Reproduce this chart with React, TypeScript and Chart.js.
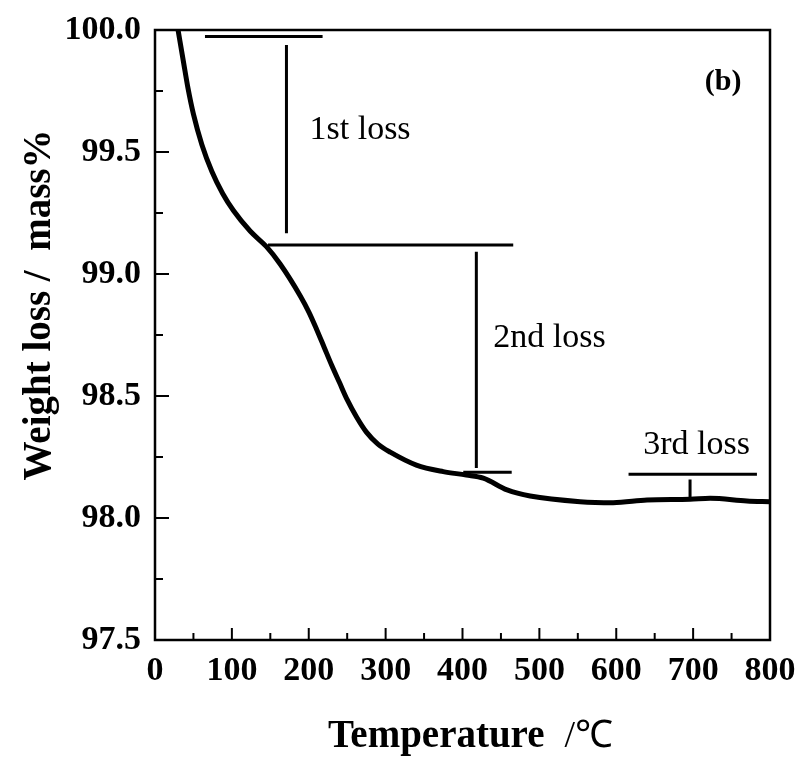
import React, { useEffect, useRef } from "react";
import { Chart, registerables } from "chart.js";

Chart.register(...registerables);

// TG curve (temperature in °C, weight in mass%)
const temps = [30, 37, 43, 50, 61, 74, 88, 102, 124, 145, 163, 189, 200, 210, 220, 230, 240, 250, 262, 275, 290, 306, 340, 375, 405, 427, 458, 488, 553, 596, 640, 696, 722, 770, 800];
const weights = [100.0, 99.87, 99.76, 99.655, 99.53, 99.42, 99.33, 99.26, 99.175, 99.112, 99.04, 98.91, 98.845, 98.775, 98.7, 98.625, 98.555, 98.485, 98.415, 98.352, 98.303, 98.27, 98.217, 98.19, 98.176, 98.163, 98.115, 98.09, 98.067, 98.063, 98.074, 98.077, 98.081, 98.07, 98.067];

// Annotation segments [x1, y1, x2, y2]
const loss1Top = [65, 99.973, 218, 99.973];
const loss1Bar = [171, 99.939, 171, 99.167];
const loss2Top = [147, 99.119, 466, 99.119];
const loss2Bar = [418, 99.091, 418, 98.205];
const loss2Bottom = [401, 98.187, 464, 98.187];
const loss3Top = [616, 98.179, 783, 98.179];
const loss3Bar = [696, 98.158, 696, 98.074];

const segments = [loss1Top, loss1Bar, loss2Top, loss2Bar, loss2Bottom, loss3Top, loss3Bar];

// Labels [text, x, y]
const labelTexts = ["1st loss", "2nd loss", "3rd loss"];
const labelX = [201, 440, 635];
const labelY = [99.59, 98.738, 98.3];
const panelLabel = "(b)";
const panelX = 739;
const panelY = 99.787;

const xTicks = [0, 100, 200, 300, 400, 500, 600, 700, 800];
const yTicks = [97.5, 98.0, 98.5, 99.0, 99.5, 100.0];
const xTitleMain = "Temperature";
const xTitleUnit = "/℃";
const yTitle = "Weight loss /  mass%";

const SERIF = '"Liberation Serif", "Times New Roman", serif';

export default function App() {
  const ref = useRef<HTMLCanvasElement | null>(null);

  useEffect(() => {
    const canvas = ref.current;
    if (!canvas) return;

    const decor = {
      id: "decor",
      afterDatasetsDraw(chart: any) {
        const { ctx, chartArea } = chart;
        const xs = chart.scales.x;
        const ys = chart.scales.y;
        ctx.save();
        ctx.strokeStyle = "#000";
        // frame
        ctx.lineWidth = 2.5;
        ctx.strokeRect(chartArea.left, chartArea.top, chartArea.right - chartArea.left, chartArea.bottom - chartArea.top);
        // x ticks (inward, bottom)
        ctx.lineWidth = 2;
        for (let v = 0; v <= 800; v += 50) {
          const px = xs.getPixelForValue(v);
          const len = v % 100 === 0 ? 12 : 7;
          ctx.beginPath();
          ctx.moveTo(px, chartArea.bottom);
          ctx.lineTo(px, chartArea.bottom - len);
          ctx.stroke();
        }
        // y ticks (inward, left)
        for (let i = 0; i <= 10; i++) {
          const v = 97.5 + i * 0.25;
          const py = ys.getPixelForValue(v);
          const len = i % 2 === 0 ? 14 : 8;
          ctx.beginPath();
          ctx.moveTo(chartArea.left, py);
          ctx.lineTo(chartArea.left + len, py);
          ctx.stroke();
        }
        // annotation labels
        ctx.fillStyle = "#000";
        ctx.font = `34px ${SERIF}`;
        ctx.textAlign = "left";
        ctx.textBaseline = "middle";
        labelTexts.forEach((t, i) => {
          ctx.fillText(t, xs.getPixelForValue(labelX[i]), ys.getPixelForValue(labelY[i]));
        });
        ctx.font = `bold 30px ${SERIF}`;
        ctx.textAlign = "center";
        ctx.fillText(panelLabel, xs.getPixelForValue(panelX), ys.getPixelForValue(panelY));
        ctx.restore();
      },
      afterDraw(chart: any) {
        const { ctx, chartArea } = chart;
        ctx.save();
        ctx.fillStyle = "#000";
        ctx.textBaseline = "alphabetic";
        ctx.textAlign = "left";
        // x title: bold word + thin unit
        ctx.font = `bold 39px ${SERIF}`;
        const w1 = ctx.measureText(xTitleMain).width;
        ctx.font = `38px ${SERIF}`;
        const w2 = ctx.measureText(xTitleUnit).width;
        const gap = 20;
        const cx = (chartArea.left + chartArea.right) / 2 + 8;
        const start = cx - (w1 + gap + w2) / 2;
        ctx.font = `bold 39px ${SERIF}`;
        ctx.fillText(xTitleMain, start, 747);
        ctx.font = `38px ${SERIF}`;
        ctx.fillText(xTitleUnit, start + w1 + gap, 747);
        // y title
        ctx.font = `bold 39px ${SERIF}`;
        ctx.textAlign = "center";
        ctx.translate(50, (chartArea.top + chartArea.bottom) / 2 - 30);
        ctx.rotate(-Math.PI / 2);
        ctx.fillText(yTitle, 0, 0);
        ctx.restore();
      },
    };

    const datasets: any[] = [
      {
        data: temps.map((t, i) => ({ x: t, y: weights[i] })),
        borderColor: "#000",
        borderWidth: 5,
        pointRadius: 0,
        showLine: true,
        cubicInterpolationMode: "monotone",
        fill: false,
      },
      ...segments.map((s) => ({
        data: [
          { x: s[0], y: s[1] },
          { x: s[2], y: s[3] },
        ],
        borderColor: "#000",
        borderWidth: 3,
        pointRadius: 0,
        showLine: true,
        fill: false,
      })),
    ];

    const chart = new Chart(canvas, {
      type: "scatter",
      data: { datasets },
      plugins: [decor],
      options: {
        animation: false,
        responsive: false,
        devicePixelRatio: 1,
        layout: { padding: { left: 0, right: 30, top: 30, bottom: 0 } },
        plugins: { legend: { display: false }, tooltip: { enabled: false } },
        scales: {
          x: {
            type: "linear",
            min: 0,
            max: 800,
            afterBuildTicks: (scale: any) => {
              scale.ticks = xTicks.map((v) => ({ value: v }));
            },
            afterFit: (scale: any) => {
              scale.height = 117;
              scale.paddingLeft = 0;
              scale.paddingRight = 0;
            },
            grid: { display: false, drawTicks: false },
            border: { display: false },
            ticks: {
              color: "#000",
              padding: 11,
              maxRotation: 0,
              font: { family: SERIF, size: 34, weight: "bold" },
              callback: (v: any) => String(v),
            },
          },
          y: {
            type: "linear",
            min: 97.5,
            max: 100,
            afterBuildTicks: (scale: any) => {
              scale.ticks = yTicks.map((v) => ({ value: v }));
            },
            afterFit: (scale: any) => {
              scale.width = 155;
              scale.paddingTop = 0;
              scale.paddingBottom = 0;
            },
            grid: { display: false, drawTicks: false },
            border: { display: false },
            ticks: {
              color: "#000",
              padding: 14,
              font: { family: SERIF, size: 34, weight: "bold" },
              callback: (v: any) => Number(v).toFixed(1),
            },
          },
        },
      },
    } as any);

    return () => chart.destroy();
  }, []);

  return (
    <div style={{ position: "absolute", left: 0, top: 0, width: 800, height: 757, background: "#fff" }}>
      <canvas ref={ref} width={800} height={757} style={{ width: 800, height: 757 }} />
    </div>
  );
}
